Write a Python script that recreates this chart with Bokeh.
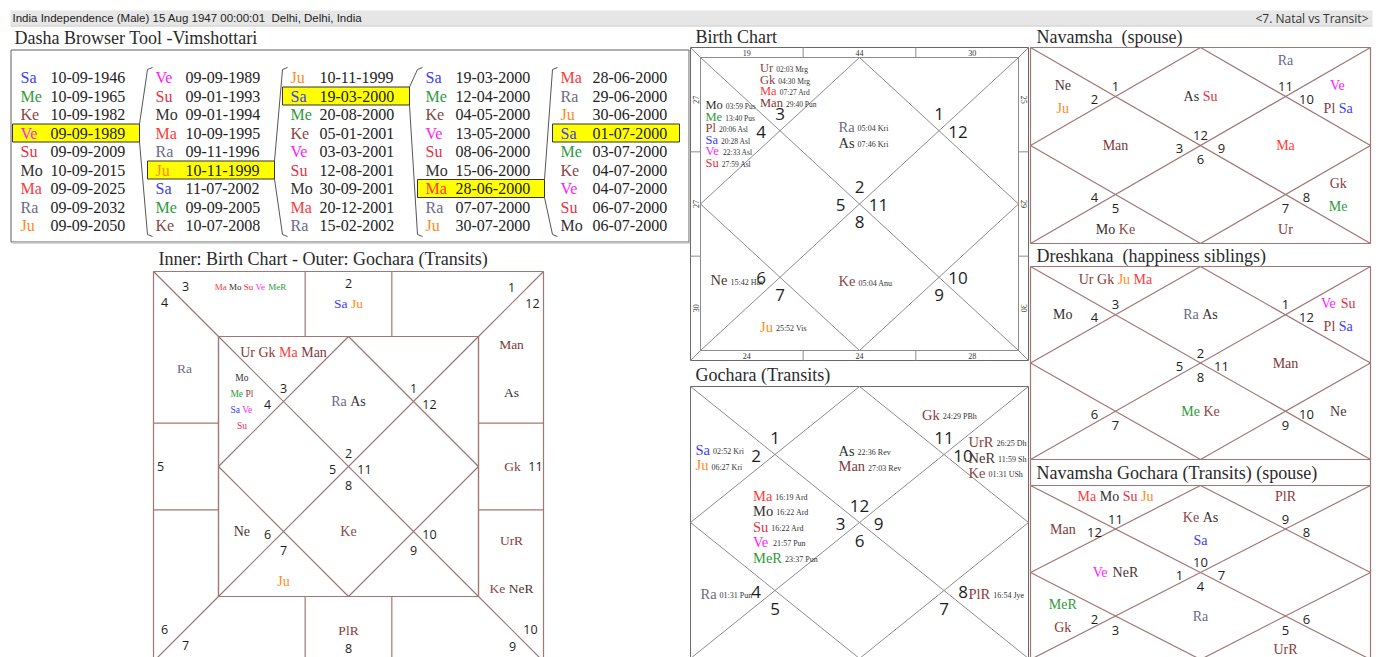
import math
from bokeh.plotting import figure
from bokeh.models import Range1d, ColumnDataSource
from bokeh.embed import file_html
from bokeh.resources import INLINE

# ---------------- DATA ----------------
header_left = "India Independence (Male) 15 Aug 1947 00:00:01\u00a0 Delhi, Delhi, India"
header_right = "<7. Natal vs Transit>"

title_dasha = "Dasha Browser Tool -Vimshottari"
title_combined = "Inner: Birth Chart - Outer: Gochara (Transits)"
title_birth = "Birth Chart"
title_gochara = "Gochara (Transits)"
title_navamsha = "Navamsha\u00a0 (spouse)"
title_dreshkana = "Dreshkana\u00a0 (happiness siblings)"
title_navgochara = "Navamsha Gochara (Transits) (spouse)"

maha_lords = ["Sa", "Me", "Ke", "Ve", "Su", "Mo", "Ma", "Ra", "Ju"]
maha_dates = ["10-09-1946", "10-09-1965", "10-09-1982", "09-09-1989", "09-09-2009",
              "10-09-2015", "09-09-2025", "09-09-2032", "09-09-2050"]
antar_lords = ["Ve", "Su", "Mo", "Ma", "Ra", "Ju", "Sa", "Me", "Ke"]
antar_dates = ["09-09-1989", "09-01-1993", "09-01-1994", "10-09-1995", "09-11-1996",
               "10-11-1999", "11-07-2002", "09-09-2005", "10-07-2008"]
pratyantar_lords = ["Ju", "Sa", "Me", "Ke", "Ve", "Su", "Mo", "Ma", "Ra"]
pratyantar_dates = ["10-11-1999", "19-03-2000", "20-08-2000", "05-01-2001", "03-03-2001",
                    "12-08-2001", "30-09-2001", "20-12-2001", "15-02-2002"]
sookshma_lords = ["Sa", "Me", "Ke", "Ve", "Su", "Mo", "Ma", "Ra", "Ju"]
sookshma_dates = ["19-03-2000", "12-04-2000", "04-05-2000", "13-05-2000", "08-06-2000",
                  "15-06-2000", "28-06-2000", "07-07-2000", "30-07-2000"]
prana_lords = ["Ma", "Ra", "Ju", "Sa", "Me", "Ke", "Ve", "Su", "Mo"]
prana_dates = ["28-06-2000", "29-06-2000", "30-06-2000", "01-07-2000", "03-07-2000",
               "04-07-2000", "04-07-2000", "06-07-2000", "06-07-2000"]
selected_period = [3, 5, 1, 6, 3]

birth_asc_sign = 2
birth_planets = ["Ra", "As", "Ur", "Gk", "Ma", "Man", "Mo", "Me", "Pl", "Sa", "Ve", "Su", "Ne", "Ju", "Ke"]
birth_houses = [1, 1, 2, 2, 2, 2, 3, 3, 3, 3, 3, 3, 5, 6, 7]
birth_degrees = ["05:04 Kri", "07:46 Kri", "02:03 Mrg", "04:30 Mrg", "07:27 Ard", "29:40 Pun",
                 "03:59 Pus", "13:40 Pus", "20:06 Asl", "20:28 Asl", "22:33 Asl", "27:59 Asl",
                 "15:42 Has", "25:52 Vis", "05:04 Anu"]
ribbon_top = ["19", "44", "30"]
ribbon_bottom = ["24", "24", "28"]
ribbon_left = ["27", "27", "30"]
ribbon_right = ["25", "29", "30"]

gochara_asc_sign = 12
gochara_planets = ["As", "Man", "Sa", "Ju", "Ma", "Mo", "Su", "Ve", "MeR", "Ra", "PlR", "UrR", "NeR", "Ke", "Gk"]
gochara_houses = [1, 1, 3, 3, 4, 4, 4, 4, 4, 5, 9, 11, 11, 11, 12]
gochara_degrees = ["22:36 Rev", "27:03 Rev", "02:52 Kri", "06:27 Kri", "16:19 Ard", "16:22 Ard",
                   "16:22 Ard", "21:57 Pun", "23:37 Pun", "01:31 Pun", "16:54 Jye", "26:25 Dh",
                   "11:59 Sh", "01:31 USh", "24:29 PBh"]

combined_asc_sign = 2
combined_inner_rows = {1: [["Ra", "As"]], 2: [["Ur", "Gk", "Ma", "Man"]],
                       3: [["Mo"], ["Me", "Pl"], ["Sa", "Ve"], ["Su"]],
                       5: [["Ne"]], 6: [["Ju"]], 7: [["Ke"]]}
combined_outer_rows = {1: [["Sa", "Ju"]], 2: [["Ma", "Mo", "Su", "Ve", "MeR"]], 3: [["Ra"]],
                       7: [["PlR"]], 9: [["UrR"], ["Ke", "NeR"]], 10: [["Gk"]], 11: [["Man"], ["As"]]}

navamsha_asc_sign = 12
navamsha_rows = {1: [["As", "Su"]], 3: [["Ne"], ["Ju"]], 4: [["Man"]], 6: [["Mo", "Ke"]],
                 8: [["Ur"]], 9: [["Gk"], ["Me"]], 10: [["Ma"]], 11: [["Ve"], ["Pl", "Sa"]], 12: [["Ra"]]}

dreshkana_asc_sign = 2
dreshkana_rows = {1: [["Ra", "As"]], 2: [["Ur", "Gk", "Ju", "Ma"]], 3: [["Mo"]], 7: [["Me", "Ke"]],
                  9: [["Ne"]], 10: [["Man"]], 11: [["Ve", "Su"], ["Pl", "Sa"]]}

navgochara_asc_sign = 10
navgochara_rows = {1: [["Ke", "As"], ["Sa"]], 2: [["Ma", "Mo", "Su", "Ju"]], 3: [["Man"]],
                   4: [["Ve", "NeR"]], 5: [["MeR"], ["Gk"]], 7: [["Ra"]], 8: [["UrR"]], 12: [["PlR"]]}

# ---------------- STYLE ----------------
PC = {"Sa": "#3b3bff", "Me": "#2f9a3c", "MeR": "#2f9a3c", "Ke": "#8a4848", "Ve": "#ff1aff",
      "Su": "#e33145", "Mo": "#333030", "Ma": "#ff3a3a", "Ra": "#6b6b85", "Ju": "#ff8a1c",
      "Ur": "#8b3a3a", "UrR": "#8b3a3a", "Gk": "#8b3a3a", "Man": "#7d3a3a", "Pl": "#8b3a3a",
      "PlR": "#8b3a3a", "Ne": "#4a3535", "NeR": "#4a3535", "As": "#333030"}
SERIF = "Liberation Serif"
NUMF = "Open Sans"
BROWN = "#a27676"
GREY = "#8c8c8c"

TW = {'A': .722, 'B': .667, 'C': .667, 'D': .722, 'E': .611, 'F': .556, 'G': .722, 'H': .722,
      'I': .333, 'J': .389, 'K': .722, 'L': .611, 'M': .889, 'N': .722, 'O': .722, 'P': .556,
      'R': .667, 'S': .556, 'T': .611, 'U': .722, 'V': .722, 'a': .444, 'b': .5, 'c': .444,
      'd': .5, 'e': .444, 'f': .333, 'g': .5, 'h': .5, 'i': .278, 'k': .5, 'l': .278, 'm': .778,
      'n': .5, 'o': .5, 'p': .5, 'r': .333, 's': .389, 't': .278, 'u': .5, 'v': .5, 'y': .5,
      ' ': .25, ':': .278, '-': .333}


def tw(s, size):
    return sum(TW.get(c, 0.5) for c in s) * size


T = dict(x=[], y=[], text=[], color=[], font=[], size=[], align=[], angle=[])
S = dict(x0=[], y0=[], x1=[], y1=[], color=[], lw=[])
Q = dict(l=[], r=[], t=[], b=[], fill=[], line=[], lalpha=[])


def txt(x, y, s, color="#333", font=SERIF, size=14, align="left", angle=0.0):
    T["x"].append(x); T["y"].append(y); T["text"].append(s); T["color"].append(color)
    T["font"].append(font); T["size"].append(f"{size}px"); T["align"].append(align)
    T["angle"].append(angle)


def seg(x0, y0, x1, y1, color, lw=1.0):
    S["x0"].append(x0); S["y0"].append(y0); S["x1"].append(x1); S["y1"].append(y1)
    S["color"].append(color); S["lw"].append(lw)


def box(x0, y0, x1, y1, color, lw=1.0):
    seg(x0, y0, x1, y0, color, lw); seg(x1, y0, x1, y1, color, lw)
    seg(x1, y1, x0, y1, color, lw); seg(x0, y1, x0, y0, color, lw)


def quad(l, r, t, b, fill, line=None):
    Q["l"].append(l); Q["r"].append(r); Q["t"].append(t); Q["b"].append(b)
    Q["fill"].append(fill)
    Q["line"].append(line or "#000000"); Q["lalpha"].append(1.0 if line else 0.0)


def row_words(words, cx, cy, size):
    total = sum(tw(w, size) for w in words) + (len(words) - 1) * 0.25 * size
    x = cx - total / 2
    for w in words:
        txt(x, cy, w, color=PC[w], size=size)
        x += tw(w, size) + 0.25 * size


def sign_of(asc, h):
    return (asc + h - 2) % 12 + 1


def chart_lines(x0, y0, w, h, color, lw):
    x1, y1 = x0 + w, y0 + h
    cx, cy = x0 + w / 2, y0 + h / 2
    seg(x0, y0, x1, y1, color, lw); seg(x1, y0, x0, y1, color, lw)
    seg(cx, y0, x0, cy, color, lw); seg(x0, cy, cx, y1, color, lw)
    seg(cx, y1, x1, cy, color, lw); seg(x1, cy, cx, y0, color, lw)


def sign_numbers(x0, y0, w, h, asc, fs, up, dn, lr, dy):
    cx, cy = x0 + w / 2, y0 + h / 2
    qx1, qx3 = x0 + w / 4, x0 + 3 * w / 4
    qy1, qy3 = y0 + h / 4, y0 + 3 * h / 4
    pos = {1: (cx, cy - up), 4: (cx - lr, cy + dy), 7: (cx, cy + dn), 10: (cx + lr, cy + dy),
           2: (qx1, qy1 - up), 3: (qx1 - lr, qy1 + dy), 5: (qx1 - lr, qy3 + dy), 6: (qx1, qy3 + dn),
           8: (qx3, qy3 + dn), 9: (qx3 + lr, qy3 + dy), 11: (qx3 + lr, qy1 + dy), 12: (qx3, qy1 - up)}
    for hs in range(1, 13):
        x, y = pos[hs]
        txt(x, y, str(sign_of(asc, hs)), color="#1e1e1e", font=NUMF, size=fs, align="center")


def simple_chart(x0, y0, w, h, asc, rows, color, nfs, off, pfs=14, sp=23, lxf=0.095,
                 top_in=13, bot_in=14):
    chart_lines(x0, y0, w, h, color, 1.2)
    box(x0, y0, x0 + w, y0 + h, color, 1.2)
    sign_numbers(x0, y0, w, h, asc, nfs, *off)
    cx, cy = x0 + w / 2, y0 + h / 2
    qx1, qx3 = x0 + w / 4, x0 + 3 * w / 4
    qy1, qy3 = y0 + h / 4, y0 + 3 * h / 4
    lx, rx = x0 + lxf * w, x0 + w - lxf * w
    top, bot = y0 + top_in, y0 + h - bot_in
    anc = {1: (cx, qy1), 2: (qx1, top), 3: (lx, qy1), 4: (qx1, cy), 5: (lx, qy3), 6: (qx1, bot),
           7: (cx, qy3), 8: (qx3, bot), 9: (rx, qy3), 10: (qx3, cy), 11: (rx, qy1), 12: (qx3, top)}
    for hs, rws in rows.items():
        ax, ay = anc[hs]
        n = len(rws)
        fs, s = (9.5, 16) if n >= 4 else (pfs, sp)
        for i, r in enumerate(rws):
            row_words(r, ax, ay + (i - (n - 1) / 2) * s, fs)


def detail_chart(x0, y0, w, h, asc, planets, houses, degrees, compact):
    chart_lines(x0, y0, w, h, GREY, 1.0)
    sign_numbers(x0, y0, w, h, asc, 17, 17, 18, 19, 1)
    x1, y1 = x0 + w, y0 + h
    cx, cy = x0 + w / 2, y0 + h / 2
    qx1, qx3 = x0 + w / 4, x0 + 3 * w / 4
    qy1, qy3 = y0 + h / 4, y0 + 3 * h / 4
    anc = {1: (cx - 21, qy1 + 4), 2: (qx1 - 20, y0 + 28), 3: (x0 + 5, qy1 + 3), 4: (qx1 - 22, cy + 4),
           5: (x0 + 10, qy3 + 3), 6: (qx1 - 20, y1 - 24), 7: (cx - 21, qy3 + 4), 8: (qx3 - 20, y1 - 24),
           9: (x1 - 60, qy3 + 3), 10: (qx3 - 22, cy + 4), 11: (x1 - 60, qy1 + 3), 12: (qx3 - 22, y0 + 28)}
    for hs in range(1, 13):
        items = [(pl, dg) for pl, hh, dg in zip(planets, houses, degrees) if hh == hs]
        if not items:
            continue
        n = len(items)
        if compact and n >= 4:
            nfs, dfs, s = 12.5, 7.5, 11.5
        else:
            nfs, dfs, s = 14.5, 8, (16 if compact else 15.5)
        ax, ay = anc[hs]
        for i, (pl, dg) in enumerate(items):
            y = ay + (i - (n - 1) / 2) * s
            txt(ax, y, pl, color=PC[pl], size=nfs)
            txt(ax + tw(pl, nfs) + 3, y + 0.3 * (nfs - dfs), dg, color="#333", size=dfs)


# ---------------- FIGURE ----------------
W, H = 1382, 657
p = figure(width=W, height=H, x_range=Range1d(0, W), y_range=Range1d(H, 0),
           output_backend="svg", toolbar_location=None, min_border=0,
           x_axis_location=None, y_axis_location=None)
p.grid.visible = False
p.outline_line_color = None
p.background_fill_color = "white"

# header bar
quad(10, 1372, 10, 25, "#e6e6e6")
seg(10, 25.5, 1372, 25.5, "#c4c4c4", 1.0)
txt(12, 17.5, header_left, color="#222", font="Liberation Sans", size=11.5)
txt(1368, 17.5, header_right, color="#333", font=NUMF, size=12, align="right")

# ---------- Dasha browser ----------
txt(14, 37, title_dasha, color="#2a2a2a", size=18)
box(10.5, 49.5, 688.5, 241.5, "#606060", 1.0)
seg(12, 242.5, 689.5, 242.5, "#c8c8c8", 1.5)
seg(689.5, 51, 689.5, 242.5, "#c8c8c8", 1.5)
dasha_cols = [(maha_lords, maha_dates), (antar_lords, antar_dates), (pratyantar_lords, pratyantar_dates),
              (sookshma_lords, sookshma_dates), (prana_lords, prana_dates)]
abbr_x = [20, 155, 290, 425, 560]
date_x = [50, 185, 319, 455, 592]
row_y0, row_dy = 77, 18.5
for c, (lords, dates) in enumerate(dasha_cols):
    for i, (l, d) in enumerate(zip(lords, dates)):
        y = row_y0 + i * row_dy
        if i == selected_period[c]:
            quad(abbr_x[c] - 8, abbr_x[c] + 119, y - 9, y + 9, "#ffff00", "#333333")
        txt(abbr_x[c], y, l, color=PC[l], size=16)
        txt(date_x[c], y, d, color="#222", size=16)
for c in range(4):
    ys = row_y0 + selected_period[c] * row_dy
    xr = abbr_x[c] + 119
    xn = abbr_x[c + 1] - 8
    seg(xr, ys - 9, xn, 69, "#555", 1.0); seg(xn, 69, xn + 5, 67, "#555", 1.0)
    seg(xr, ys + 9, xn, 234, "#555", 1.0); seg(xn, 234, xn + 5, 236, "#555", 1.0)

# ---------- Combined inner/outer chart ----------
txt(158, 258, title_combined, color="#2a2a2a", size=18)
X0, Y0, SZ, M = 153, 271, 390, 65
X1, Y1 = X0 + SZ, Y0 + SZ
IX0, IY0, IX1, IY1 = X0 + M, Y0 + M, X1 - M, Y1 - M
iw, ih = IX1 - IX0, IY1 - IY0
box(X0, Y0, X1, Y1, BROWN, 1.2)
box(IX0, IY0, IX1, IY1, BROWN, 1.2)
seg(X0, Y0, IX0, IY0, BROWN, 1.2); seg(X1, Y0, IX1, IY0, BROWN, 1.2)
seg(X0, Y1, IX0, IY1, BROWN, 1.2); seg(X1, Y1, IX1, IY1, BROWN, 1.2)
for k in (1, 2):
    xx = IX0 + iw * k / 3
    yy = IY0 + ih * k / 3
    seg(xx, Y0, xx, IY0, BROWN, 1.2); seg(xx, IY1, xx, Y1, BROWN, 1.2)
    seg(X0, yy, IX0, yy, BROWN, 1.2); seg(IX1, yy, X1, yy, BROWN, 1.2)
simple_chart(IX0, IY0, iw, ih, combined_asc_sign, combined_inner_rows, BROWN, 12.5,
             (13, 19, 16, 3), pfs=14, sp=23, lxf=0.09, top_in=16, bot_in=15)
ccx, ccy = (X0 + X1) / 2, (Y0 + Y1) / 2
ring_sign_pos = {1: (ccx, Y0 + 12), 2: (X0 + 32, Y0 + 15), 3: (X0 + 11, Y0 + 31), 4: (X0 + 7, ccy),
                 5: (X0 + 11, Y1 - 32), 6: (X0 + 32, Y1 - 16), 7: (ccx, Y1 - 13), 8: (X1 - 31, Y1 - 15),
                 9: (X1 - 13, Y1 - 32), 10: (X1 - 8, ccy), 11: (X1 - 11, Y0 + 32), 12: (X1 - 32, Y0 + 16)}
for hs in range(1, 13):
    x, y = ring_sign_pos[hs]
    txt(x, y, str(sign_of(combined_asc_sign, hs)), color="#1e1e1e", font=NUMF, size=12.5, align="center")
ring_anchor = {1: (ccx, Y0 + 32), 2: (X0 + 97, Y0 + 15), 3: (X0 + 31, Y0 + 97), 4: (X0 + 31, ccy),
               5: (X0 + 31, Y1 - 97), 6: (X0 + 97, Y1 - 15), 7: (ccx, Y1 - 31), 8: (X1 - 97, Y1 - 15),
               9: (X1 - 32, Y1 - 97), 10: (X1 - 31, ccy), 11: (X1 - 32, Y0 + 97), 12: (X1 - 97, Y0 + 15)}
for hs, rws in combined_outer_rows.items():
    ax, ay = ring_anchor[hs]
    n = len(rws)
    for i, r in enumerate(rws):
        fs = 9 if len(r) > 4 else 13.5
        row_words(r, ax, ay + (i - (n - 1) / 2) * 48.5, fs)

# ---------- Birth chart ----------
txt(695, 36, title_birth, color="#2a2a2a", size=18)
BX0, BY0, BX1, BY1 = 690, 47, 1028, 360
box(BX0, BY0, BX1, BY1, "#6a6a6a", 1.0)
box(700, 57, 1018, 350, GREY, 1.0)
seg(BX0, BY0, 700, 57, GREY); seg(BX1, BY0, 1018, 57, GREY)
seg(BX0, BY1, 700, 350, GREY); seg(BX1, BY1, 1018, 350, GREY)
bw, bh = BX1 - BX0, BY1 - BY0
for k in (1, 2):
    xx = BX0 + bw * k / 3
    yy = BY0 + bh * k / 3
    seg(xx, BY0, xx, 57, GREY); seg(xx, 350, xx, BY1, GREY)
    seg(BX0, yy, 700, yy, GREY); seg(1018, yy, BX1, yy, GREY)
for k in range(3):
    xx = BX0 + bw * (k + 0.5) / 3
    yy = BY0 + bh * (k + 0.5) / 3
    txt(xx, 52.5, ribbon_top[k], color="#333", size=8, align="center")
    txt(xx, 355, ribbon_bottom[k], color="#333", size=8, align="center")
    txt(695, yy, ribbon_left[k], color="#333", size=8, align="center", angle=math.pi / 2)
    txt(1023, yy, ribbon_right[k], color="#333", size=8, align="center", angle=-math.pi / 2)
detail_chart(700, 57, 318, 293, birth_asc_sign, birth_planets, birth_houses, birth_degrees, True)

# ---------- Gochara ----------
txt(695, 374, title_gochara, color="#2a2a2a", size=18)
box(690, 386, 1028, 658, "#6a6a6a", 1.0)
detail_chart(690, 386, 338, 272, gochara_asc_sign, gochara_planets, gochara_houses, gochara_degrees, False)

# ---------- Navamsha / Dreshkana / Navamsha Gochara ----------
txt(1036, 36, title_navamsha, color="#2a2a2a", size=18)
simple_chart(1030, 47, 340, 196, navamsha_asc_sign, navamsha_rows, BROWN, 13, (10, 14, 21, 3))
txt(1036, 255, title_dreshkana, color="#2a2a2a", size=18)
simple_chart(1030, 266, 340, 193, dreshkana_asc_sign, dreshkana_rows, BROWN, 13, (10, 14, 21, 3))
seg(1030, 459, 1030, 485, BROWN, 1.2); seg(1370, 459, 1370, 485, BROWN, 1.2)
txt(1036, 472, title_navgochara, color="#2a2a2a", size=18)
simple_chart(1030, 485, 340, 174, navgochara_asc_sign, navgochara_rows, BROWN, 13, (10, 14, 21, 3),
             top_in=11, bot_in=10)

# ---------------- RENDER ----------------
p.quad(left="l", right="r", top="t", bottom="b", fill_color="fill",
       line_color="line", line_alpha="lalpha", line_width=1, source=ColumnDataSource(Q))
p.segment(x0="x0", y0="y0", x1="x1", y1="y1", line_color="color", line_width="lw",
          source=ColumnDataSource(S))
p.text(x="x", y="y", text="text", text_color="color", text_font="font", text_font_size="size",
       text_align="align", text_baseline="middle", angle="angle", source=ColumnDataSource(T))

open("out.html", "w").write(file_html(p, INLINE))
